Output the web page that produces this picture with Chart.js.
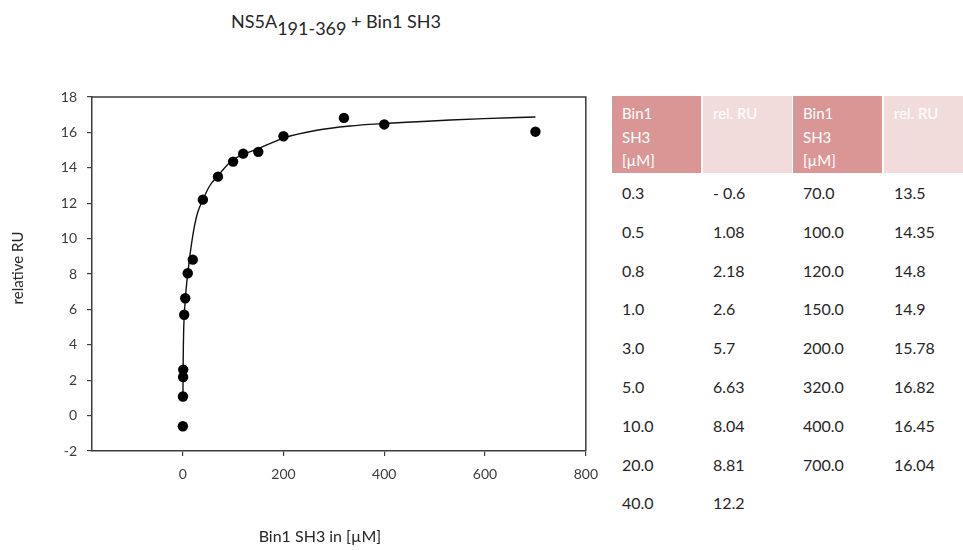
<!DOCTYPE html>
<html>
<head>
<meta charset="utf-8">
<title>NS5A 191-369 + Bin1 SH3</title>
<script src="https://cdn.jsdelivr.net/npm/chart.js@4.4.1/dist/chart.umd.min.js"></script>
<style>
  html, body { margin: 0; padding: 0; background: #fff; }
  body { width: 963px; height: 550px; overflow: hidden; font-family: Lato, "Open Sans", sans-serif; }
  #wrap { position: relative; width: 963px; height: 550px; overflow: hidden; }
  #plot { position: absolute; left: 0; top: 0; }
  #title { position: absolute; left: 231px; top: 9px; font-size: 18px; color: #262626; white-space: nowrap; line-height: 24px; }
  #title sub { font-size: 18px; vertical-align: -7px; line-height: 0; }
  .cell { position: absolute; width: 89px; box-sizing: border-box; padding-left: 10px; white-space: nowrap; }
  .head { top: 96px; height: 77px; color: #fff; font-size: 15px; line-height: 23.5px; padding-top: 6px; }
  .headDark { background: #da9694; }
  .headLight { background: #f2dcdb; }
  .val { font-size: 16px; color: #262626; height: 24px; line-height: 24px; }
</style>
</head>
<body>
<div id="wrap">
  <div id="title">NS5A<sub>191-369</sub> + Bin1 SH3</div>
  <canvas id="plot" width="608" height="550"></canvas>
  <div id="table"></div>
</div>
<script>
// Bin1 SH3 titration against NS5A 191-369: concentrations in µM and relative response units
const concentrations = [0.3, 0.5, 0.8, 1.0, 3.0, 5.0, 10.0, 20.0, 40.0, 70.0, 100.0, 120.0, 150.0, 200.0, 320.0, 400.0, 700.0];
const relativeRU = [-0.6, 1.08, 2.18, 2.6, 5.7, 6.63, 8.04, 8.81, 12.2, 13.5, 14.35, 14.8, 14.9, 15.78, 16.82, 16.45, 16.04];

// Binding fit curve, sampled along the drawn line
const fitConc = [0.5, 0.8, 1, 2, 3, 5, 8, 12, 17, 24, 30, 40, 54, 70, 97, 120, 150, 200, 266, 332, 400, 465, 531, 598, 700];
const fitRU = [1.1, 2.4, 3.2, 4.9, 5.6, 6.5, 7.5, 8.5, 9.6, 10.8, 11.5, 12.2, 13.0, 13.55, 14.4, 14.75, 15.08, 15.68, 16.12, 16.36, 16.5, 16.6, 16.7, 16.78, 16.87];

// Axis ticks
const xTicks = [0, 200, 400, 600, 800];
const yTicks = [-2, 0, 2, 4, 6, 8, 10, 12, 14, 16, 18];

// Table headers
const concHeader = ['Bin1', 'SH3', '[µM]'];
const ruHeader = 'rel. RU';

const axisColor = '#3c3c3c';
const font = 'Lato, "Open Sans", sans-serif';

// Closes the plot frame on the top and right sides
const frame = {
  id: 'frame',
  afterDraw(chart) {
    const { ctx, chartArea: a } = chart;
    ctx.save();
    ctx.strokeStyle = axisColor;
    ctx.lineWidth = 1.5;
    ctx.beginPath();
    ctx.moveTo(a.left, a.top);
    ctx.lineTo(a.right, a.top);
    ctx.lineTo(a.right, a.bottom);
    ctx.stroke();
    ctx.restore();
  }
};

// Axis captions
const captions = {
  id: 'captions',
  afterDraw(chart) {
    const { ctx, chartArea: a } = chart;
    ctx.save();
    ctx.fillStyle = '#262626';
    ctx.textAlign = 'center';
    ctx.textBaseline = 'middle';
    ctx.font = '16px ' + font;
    ctx.fillText('Bin1 SH3 in [µM]', (a.left + a.right) / 2 - 19, a.bottom + 86);
    ctx.font = '15px ' + font;
    ctx.translate(a.left - 74, (a.top + a.bottom) / 2 - 6);
    ctx.rotate(-Math.PI / 2);
    ctx.fillText('relative RU', 0, 0);
    ctx.restore();
  }
};

new Chart(document.getElementById('plot'), {
  type: 'scatter',
  data: {
    datasets: [
      {
        label: 'measured',
        data: concentrations.map((x, i) => ({ x, y: relativeRU[i] })),
        pointRadius: 5.2,
        pointBackgroundColor: '#000',
        pointBorderColor: '#000',
        pointBorderWidth: 0,
        order: 1
      },
      {
        label: 'fit',
        data: fitConc.map((x, i) => ({ x, y: fitRU[i] })),
        showLine: true,
        borderColor: '#111',
        borderWidth: 1.4,
        pointRadius: 0,
        cubicInterpolationMode: 'monotone',
        order: 2
      }
    ]
  },
  options: {
    responsive: false,
    animation: false,
    layout: { padding: { top: 97, right: 0, left: 0, bottom: 0 } },
    plugins: { legend: { display: false }, tooltip: { enabled: false } },
    scales: {
      x: {
        type: 'linear',
        min: -180,
        max: 800,
        afterBuildTicks: s => { s.ticks = xTicks.map(v => ({ value: v })); },
        afterFit: s => { s.height = 99; },
        grid: { drawOnChartArea: false, drawTicks: true, tickLength: 5, color: axisColor, lineWidth: 1.2 },
        border: { display: true, color: axisColor, width: 1.5 },
        ticks: { padding: 10, color: '#3c3c3c', font: { family: font, size: 14 }, maxRotation: 0 }
      },
      y: {
        type: 'linear',
        min: -2,
        max: 18,
        afterBuildTicks: s => { s.ticks = yTicks.map(v => ({ value: v })); },
        afterFit: s => { s.width = 92; },
        grid: { drawOnChartArea: false, drawTicks: true, tickLength: 5, color: axisColor, lineWidth: 1.2 },
        border: { display: true, color: axisColor, width: 1.5 },
        ticks: { padding: 10, color: '#3c3c3c', font: { family: font, size: 14 } }
      }
    }
  },
  plugins: [frame, captions]
});

// Data table: two column pairs, first nine rows then the rest
const table = document.getElementById('table');
const colLeft = [612, 703, 793, 884];
function addCell(cls, left, top, html) {
  const d = document.createElement('div');
  d.className = 'cell ' + cls;
  d.style.left = left + 'px';
  if (top !== null) d.style.top = top + 'px';
  d.innerHTML = html;
  table.appendChild(d);
}
addCell('head headDark', colLeft[0], null, concHeader.join('<br>'));
addCell('head headLight', colLeft[1], null, ruHeader);
addCell('head headDark', colLeft[2], null, concHeader.join('<br>'));
addCell('head headLight', colLeft[3], null, ruHeader);

const formatRU = v => (v < 0 ? '- ' + Math.abs(v) : String(v));
const rowsPerBlock = 9;
concentrations.forEach((c, i) => {
  const block = Math.floor(i / rowsPerBlock);
  const row = i % rowsPerBlock;
  const top = 193 + row * 38.8 - 12;
  addCell('val', colLeft[block * 2], top, c.toFixed(1));
  addCell('val', colLeft[block * 2 + 1], top, formatRU(relativeRU[i]));
});
</script>
</body>
</html>
